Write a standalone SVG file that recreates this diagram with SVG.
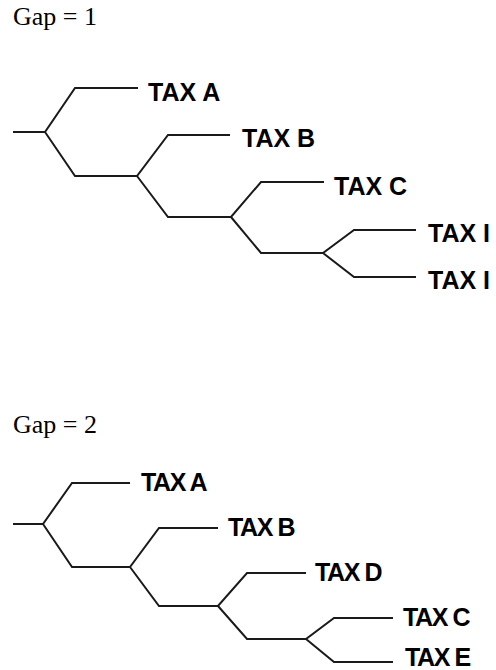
<svg xmlns="http://www.w3.org/2000/svg" width="496" height="670" viewBox="0 0 496 670">
<style>
.e{fill:none;stroke:#1a1a1a;stroke-width:2;stroke-linejoin:miter}
.t{font-family:"Liberation Sans",Arial,sans-serif;font-weight:bold;font-size:25px;fill:#000}
.t2{font-family:"Liberation Sans",Arial,sans-serif;font-weight:bold;font-size:25px;fill:#000;letter-spacing:-1.4px}
.h{font-family:"Liberation Serif","Times New Roman",serif;font-size:26px;fill:#000}
</style>
<rect width="496" height="670" fill="#fff"/>
<text class="h" x="13" y="25">Gap = 1</text>
<text class="h" x="13" y="433">Gap = 2</text>
<g id="connectors">
<path class="e" d="M13,132 H45 L75,88 H138 M45,132 L75,176 H137 L168,135 H230 M137,176 L168,217 H231 L261,182 H324 M231,217 L261,253 H323 L354,230 H416 M323,253 L354,277 H416"/>
<path class="e" d="M13,524 H43 L72,483 H130 M43,524 L72,567 H130 L159,528 H218 M130,567 L159,606 H218 L247,573 H306 M218,606 L247,639 H306 L334,618 H393 M306,639 L334,662 H393"/>
</g>
<g id="t1a"><text class="t" x="148" y="101">TAX A</text></g>
<g id="t1b"><text class="t" x="242" y="147">TAX B</text></g>
<g id="t1c"><text class="t" x="334" y="195">TAX C</text></g>
<g id="t1i1"><text class="t" x="428" y="242">TAX I</text></g>
<g id="t1i2"><text class="t" x="428" y="289">TAX I</text></g>
<g id="t2a"><text class="t2" x="141" y="491">TAX A</text></g>
<g id="t2b"><text class="t2" x="228" y="536">TAX B</text></g>
<g id="t2d"><text class="t2" x="315" y="581">TAX D</text></g>
<g id="t2c"><text class="t2" x="403" y="626">TAX C</text></g>
<g id="t2e"><text class="t2" x="405" y="666">TAX E</text></g>
</svg>
